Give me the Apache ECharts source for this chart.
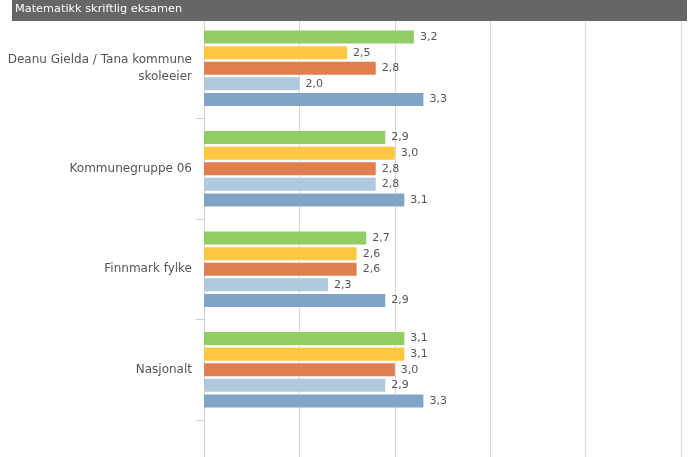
<!DOCTYPE html>
<html><head><meta charset="utf-8">
<script src="https://cdn.jsdelivr.net/npm/echarts@6/dist/echarts.min.js"></script>
<style>html,body{margin:0;padding:0;background:#fff}#c{width:697px;height:457px}</style>
</head><body><div id="c"></div>
<script>
const title = 'Matematikk skriftlig eksamen';
const categories = ['Deanu Gielda / Tana kommune\nskoleeier', 'Kommunegruppe 06', 'Finnmark fylke', 'Nasjonalt'];
const series1 = [3.2, 2.9, 2.7, 3.1];
const series2 = [2.5, 3.0, 2.6, 3.1];
const series3 = [2.8, 2.8, 2.6, 3.0];
const series4 = [2.0, 2.8, 2.3, 2.9];
const series5 = [3.3, 3.1, 2.9, 3.3];
const colors = ['#92cc64', '#fdc840', '#e07e4f', '#b0c8de', '#80a3c8'];
const xTicks = [1, 2, 3, 4, 5, 6];

const font = 'DejaVu Sans';
const chart = echarts.init(document.getElementById('c'), null, {renderer: 'canvas'});
const mk = (data, i) => ({
  type: 'bar', data, barWidth: 13, barGap: '20%',
  itemStyle: {color: colors[i]},
  label: {show: true, position: 'right', distance: 6, color: '#555', fontSize: 11, fontFamily: font,
    formatter: p => p.value.toFixed(1).replace('.', ',')}
});
const xAx = (gi) => ({type: 'value', gridIndex: gi, min: xTicks[0], max: xTicks[xTicks.length - 1], interval: 1,
    axisLabel: {show: false}, axisLine: {show: false}, axisTick: {show: false},
    splitLine: {show: true, lineStyle: {color: '#d9d9d9', width: 1}}});
chart.setOption({
  animation: false,
  textStyle: {fontFamily: font},
  graphic: [
    {type: 'rect', shape: {x: 12, y: 0, width: 675, height: 21}, style: {fill: '#666666'}, z: 10},
    {type: 'text', x: 15, y: 4, style: {text: title, fill: '#ffffff', fontSize: 11.3, fontFamily: font}, z: 11}
  ],
  grid: [
    {left: 204, top: 18, width: 477, height: 402, containLabel: false},
    {left: 204, top: 420, width: 477, height: 40, containLabel: false}
  ],
  xAxis: [xAx(0), xAx(1)],
  yAxis: [{type: 'category', gridIndex: 0, data: categories, inverse: true,
    axisLine: {show: true, lineStyle: {color: '#cfcfcf'}},
    axisTick: {show: true, length: 8, lineStyle: {color: '#cfcfcf'}},
    axisLabel: {color: '#555', fontSize: 12, fontFamily: font, margin: 12, lineHeight: 17, align: 'right', padding: [3, 0, 0, 0]}},
    {type: 'category', gridIndex: 1, data: [''],
    axisLine: {show: true, lineStyle: {color: '#cfcfcf'}},
    axisTick: {show: false}, axisLabel: {show: false}}],
  series: [mk(series1, 0), mk(series2, 1), mk(series3, 2), mk(series4, 3), mk(series5, 4)]
});
</script></body></html>
